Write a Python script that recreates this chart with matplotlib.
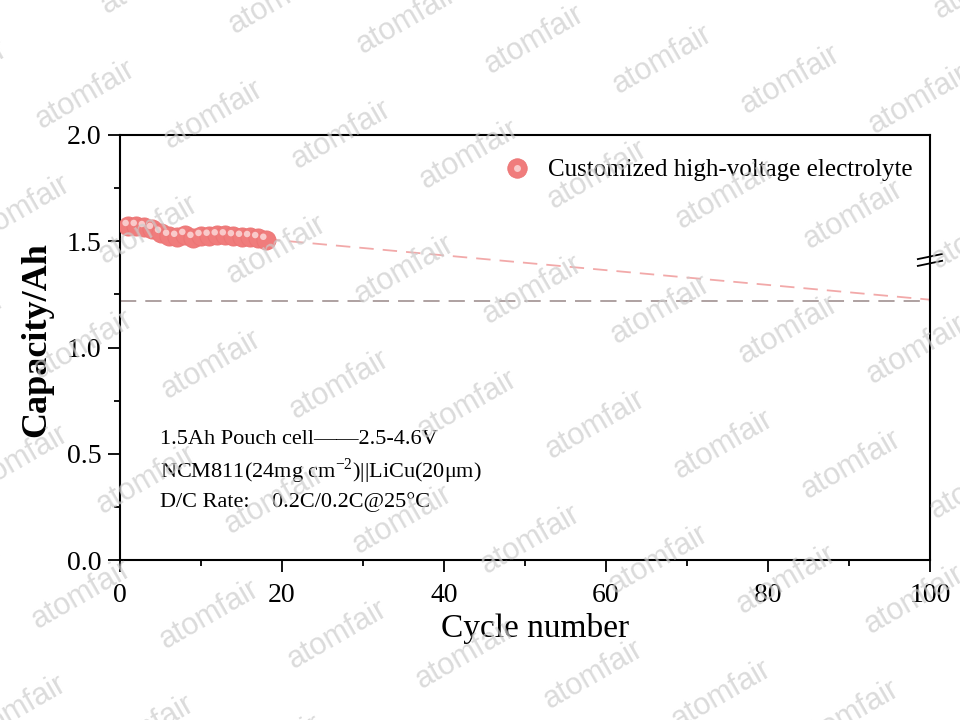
import matplotlib
matplotlib.use('Agg')
import matplotlib.pyplot as plt
import matplotlib.transforms as mtransforms
from matplotlib.lines import Line2D
from matplotlib.legend_handler import HandlerTuple

plt.rcParams['font.family'] = ['Liberation Serif', 'DejaVu Serif']
plt.rcParams['mathtext.fontset'] = 'custom'
plt.rcParams['mathtext.rm'] = 'Liberation Serif'

# data
cycles = [1, 2, 3, 4, 5, 6, 7, 8, 9, 10, 11, 12, 13, 14, 15, 16, 17, 18]
capacity = [1.572, 1.572, 1.567, 1.558, 1.540, 1.526, 1.521, 1.530, 1.516, 1.525,
            1.526, 1.528, 1.528, 1.524, 1.521, 1.520, 1.515, 1.507]
trend_x = [18, 100]
trend_y = [1.51, 1.225]
cutoff_y = 1.22
series_label = 'Customized high-voltage electrolyte'
notes = ['1.5Ah Pouch cell\u2014\u20142.5-4.6V',
         'NCM811(24mg cm$^{-2}$)||LiCu(20\u03bcm)',
         'D/C Rate:    0.2C/0.2C@25\u00b0C']

fig = plt.figure(figsize=(9.6, 7.2), dpi=100)
ax = fig.add_axes([0.125, 0.2222, 0.84375, 0.5903])

ax.set_xlim(0, 100)
ax.set_ylim(0, 2.0)

ax.plot(trend_x, trend_y, color='#f2a9a9', lw=1.3, dashes=(8, 5), zorder=2)
ax.axhline(cutoff_y, color='#a89a9a', lw=1.3, dashes=(9, 5), zorder=2)

pts = ax.scatter(cycles, capacity, s=190, color='#f07c7c', edgecolors='#ec7474',
                 linewidths=0.6, zorder=3)
hl = mtransforms.offset_copy(ax.transData, fig=fig, x=-2.5, y=3, units='dots')
ax.scatter(cycles, capacity, s=22, color='#f9caca', edgecolors='none',
           transform=hl, zorder=4)

leg_base = Line2D([], [], ls='none', marker='o', ms=14, mfc='#f07c7c', mec='#ec7474', mew=0.6)
leg_hi = Line2D([], [], ls='none', marker='o', ms=5, mfc='#f9caca', mec='none')
ax.legend([(leg_base, leg_hi)], [series_label], handler_map={tuple: HandlerTuple(ndivide=1)},
          loc='upper right', bbox_to_anchor=(1.0, 0.985), frameon=False, fontsize=18,
          handlelength=1.0, handletextpad=0.75, borderaxespad=0.3)

for i, t in enumerate(notes):
    ax.text(0.049, 0.283 - i * 0.073, t, transform=ax.transAxes, fontsize=16,
            va='center', ha='left')

ax.set_xticks([0, 20, 40, 60, 80, 100])
ax.set_xticks([10, 30, 50, 70, 90], minor=True)
ax.set_yticks([0.0, 0.5, 1.0, 1.5, 2.0])
ax.set_yticklabels(['0.0', '0.5', '1.0', '1.5', '2.0'])
ax.set_yticks([0.25, 0.75, 1.25, 1.75], minor=True)
ax.tick_params(which='both', direction='out', width=1.3, labelsize=20, top=False, right=False)
ax.tick_params(which='major', length=8.5)
ax.tick_params(which='minor', length=4.5)
ax.tick_params(axis='x', pad=8)
ax.tick_params(axis='y', pad=5)
for s in ax.spines.values():
    s.set_linewidth(1.5)

ax.set_xlabel('Cycle number', fontsize=24)
ax.set_ylabel('Capacity/Ah', fontsize=26, fontweight='bold')
ax.xaxis.set_label_coords(0.512, -0.125)
ax.yaxis.set_label_coords(-0.083, 0.518)

# axis break marks on the right spine
for dy in (0.0, -0.016):
    ax.add_line(Line2D([0.985, 1.015], [0.708 + dy, 0.720 + dy], transform=ax.transAxes,
                       color='black', lw=1.3, clip_on=False, zorder=6))

# watermark
ox, oy = 85, 95
for i in range(-3, 10):
    for j in range(-2, 8):
        px = ox + 128 * i - 65 * j
        py = oy + 20 * i + 115 * j
        if -80 < px < 1040 and -60 < py < 780:
            fig.text(px / 960, 1 - py / 720, 'atomfair', fontsize=22, color='#cccccc',
                     alpha=0.7, rotation=30, ha='center', va='center',
                     family=['Liberation Sans', 'DejaVu Sans'], zorder=10)

fig.savefig('out.png', dpi=100)
